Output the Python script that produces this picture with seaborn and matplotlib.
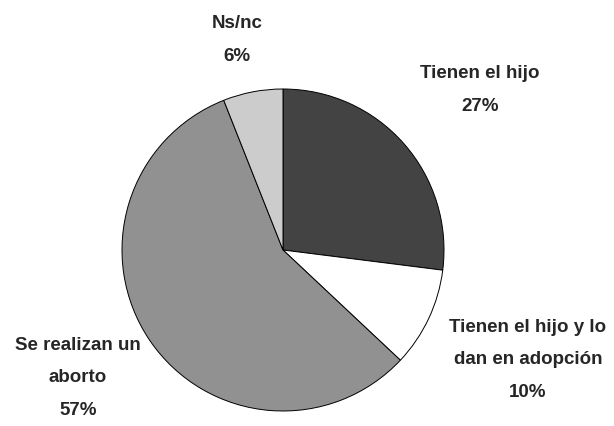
import matplotlib
matplotlib.use("Agg")
import matplotlib.pyplot as plt
import seaborn as sns

# Data
labels = ["Tienen el hijo", "Tienen el hijo y lo\ndan en adopción", "Se realizan un\naborto", "Ns/nc"]
values = [27, 10, 57, 6]
colors = ["#434343", "#ffffff", "#919191", "#cccccc"]

sns.set_style("white")
plt.rcParams["font.family"] = ["Liberation Sans Narrow", "Liberation Sans", "DejaVu Sans"]

W, H = 614, 426
cx, cy, r = 283, 250, 161

fig = plt.figure(figsize=(W / 100, H / 100), dpi=100)
ax = fig.add_axes([0, 0, 1, 1])
ax.pie(values, colors=colors, startangle=90, counterclock=False, radius=1,
       wedgeprops=dict(edgecolor="black", linewidth=0.7))
ax.set_xlim(-cx / r, (W - cx) / r)
ax.set_ylim((cy - H) / r, cy / r)
ax.set_aspect("equal")
ax.axis("off")


def px(x, y):
    return (x - cx) / r, (cy - y) / r


# label centres in pixel terms
label_pos = [(480, 90), (528, 360), (78, 378), (237, 40)]
for lab, val, (x, y) in zip(labels, values, label_pos):
    ax.text(*px(x, y), f"{lab}\n{val}%", ha="center", va="center",
            fontsize=13.5, fontweight="bold", linespacing=2.2)

fig.savefig("out.png", dpi=100)
